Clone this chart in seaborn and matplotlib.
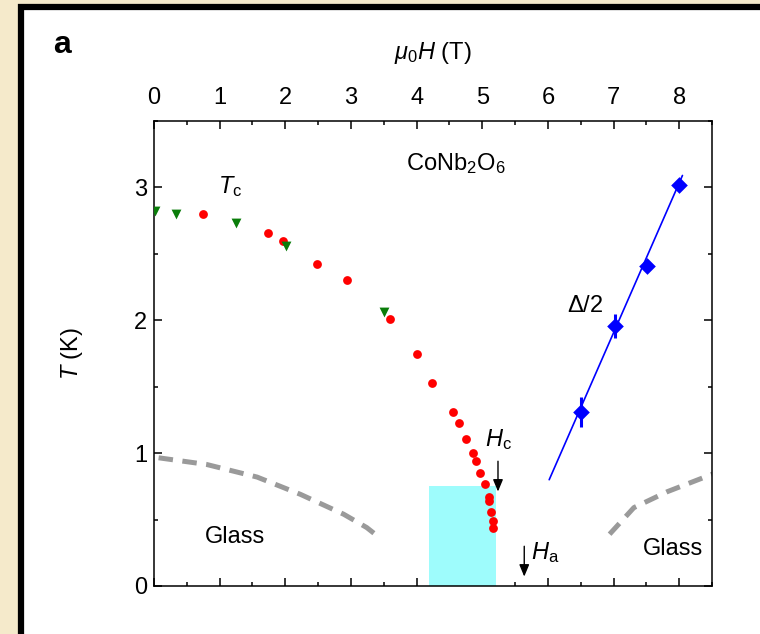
import numpy as np
import pandas as pd
import matplotlib
matplotlib.use("Agg")
import matplotlib.pyplot as plt
from matplotlib.patches import Rectangle
from matplotlib.ticker import MultipleLocator
import seaborn as sns

# --- data -------------------------------------------------------------
# Tc from specific heat (red circles)
tc_heat_H = [0.74, 1.74, 1.96, 2.49, 2.94, 3.60, 4.00, 4.23, 4.55, 4.64,
             4.75, 4.86, 4.91, 4.96, 5.04, 5.10, 5.11, 5.14, 5.17, 5.17]
tc_heat_T = [2.80, 2.66, 2.60, 2.42, 2.30, 2.01, 1.75, 1.53, 1.31, 1.23,
             1.11, 1.00, 0.94, 0.85, 0.77, 0.67, 0.64, 0.56, 0.49, 0.44]
# Tc from susceptibility (green triangles)
tc_chi_H = [0.02, 0.34, 1.25, 2.01, 3.50]
tc_chi_T = [2.82, 2.80, 2.73, 2.56, 2.06]
# half gap (blue diamonds) with error bars and linear fit
gap_H = [6.51, 7.02, 7.51, 8.00]
gap_T = [1.31, 1.96, 2.41, 3.02]
gap_err = [0.11, 0.09, 0.03, 0.03]
fit_H = [6.02, 8.05]
fit_T = [0.80, 3.09]
# glass boundaries (grey dashed)
glass_left_H = [0.07, 0.80, 1.57, 2.23, 2.89, 3.24, 3.42]
glass_left_T = [0.965, 0.915, 0.82, 0.69, 0.54, 0.44, 0.37]
glass_right_H = [6.94, 7.31, 7.82, 8.60]
glass_right_T = [0.39, 0.59, 0.71, 0.86]
# shaded field window
window_H = [4.19, 5.21]
window_T = [0.0, 0.75]

# --- style ------------------------------------------------------------
sns.set_style("ticks")
plt.rcParams["font.family"] = ["Liberation Sans", "DejaVu Sans"]
plt.rcParams["mathtext.fontset"] = "custom"
plt.rcParams["mathtext.rm"] = "Liberation Sans"
plt.rcParams["mathtext.it"] = "Liberation Sans:italic"
plt.rcParams["mathtext.bf"] = "Liberation Sans:bold"
plt.rcParams["text.color"] = "black"
plt.rcParams["axes.labelcolor"] = "black"
plt.rcParams["xtick.color"] = "black"
plt.rcParams["ytick.color"] = "black"

FS = 17
BEIGE = "#f5eacb"

fig = plt.figure(figsize=(7.6, 6.34), dpi=100, facecolor=BEIGE)

# white panel with heavy black frame (open to the right and bottom)
top = 1 - 7.5 / 634
panel = Rectangle((21 / 760, -0.2), 1.2, top + 0.2,
                  transform=fig.transFigure, facecolor="white",
                  edgecolor="black", linewidth=4.5, zorder=-5)
fig.patches.append(panel)

ax = fig.add_axes([154 / 760, 1 - 586 / 634, (712 - 154) / 760, (586 - 121) / 634])
ax.set_facecolor("none")
ax.set_zorder(2)

# shaded window
ax.add_patch(Rectangle((window_H[0], window_T[0]), window_H[1] - window_H[0],
                       window_T[1] - window_T[0], facecolor="#9efcfc",
                       edgecolor="none", zorder=1))

# glass boundaries
dash = (0, (2.9, 1.9))
sns.lineplot(x=glass_left_H, y=glass_left_T, ax=ax, sort=False, estimator=None,
             color="#9a9a9a", linewidth=3.6, linestyle=dash, zorder=2)
sns.lineplot(x=glass_right_H, y=glass_right_T, ax=ax, sort=False, estimator=None,
             color="#9a9a9a", linewidth=3.6, linestyle=dash, zorder=2)

# gap fit line
sns.lineplot(x=fit_H, y=fit_T, ax=ax, sort=False, estimator=None,
             color="#0000ff", linewidth=1.2, zorder=3)
ax.errorbar(gap_H, gap_T, yerr=gap_err, fmt="none", ecolor="#0000ff",
            elinewidth=2.2, capsize=0, zorder=3)

df_heat = pd.DataFrame({"H": tc_heat_H, "T": tc_heat_T})
df_chi = pd.DataFrame({"H": tc_chi_H, "T": tc_chi_T})
df_gap = pd.DataFrame({"H": gap_H, "T": gap_T})

sns.scatterplot(data=df_heat, x="H", y="T", ax=ax, color="#ff0000", marker="o",
                s=40, linewidth=0, zorder=4)
sns.scatterplot(data=df_chi, x="H", y="T", ax=ax, color="#0a7d0a", marker="v",
                s=50, linewidth=0, zorder=4)
sns.scatterplot(data=df_gap, x="H", y="T", ax=ax, color="#0000ff", marker="D",
                s=72, linewidth=0, zorder=5)

# --- axes -------------------------------------------------------------
ax.set_xlim(0, 8.5)
ax.set_ylim(0, 3.5)
ax.xaxis.set_major_locator(MultipleLocator(1))
ax.xaxis.set_minor_locator(MultipleLocator(0.5))
ax.yaxis.set_major_locator(MultipleLocator(1))
ax.yaxis.set_minor_locator(MultipleLocator(0.5))
ax.tick_params(axis="both", which="both", direction="in", top=True, right=True,
               bottom=True, left=True, colors="black", width=1.1)
ax.tick_params(axis="both", which="major", length=6)
ax.tick_params(axis="both", which="minor", length=3)
ax.tick_params(axis="x", labeltop=True, labelbottom=False, labelsize=FS, pad=9)
ax.tick_params(axis="y", labelleft=True, labelsize=FS, pad=5)
for sp in ax.spines.values():
    sp.set_visible(True)
    sp.set_linewidth(1.1)
    sp.set_color("black")

ax.xaxis.set_label_position("top")
ax.set_xlabel(r"$\mu_0H$ (T)", fontsize=FS, labelpad=20)
ax.set_ylabel(r"$T$ (K)", fontsize=FS, labelpad=35)

# --- annotations ------------------------------------------------------
ax.text(4.59, 3.18, r"CoNb$_2$O$_6$", fontsize=FS, ha="center", va="center")
ax.text(1.16, 3.01, r"$T_\mathrm{c}$", fontsize=FS, ha="center", va="center")
ax.text(6.57, 2.11, r"$\Delta$/2", fontsize=FS, ha="center", va="center")
ax.text(1.23, 0.37, "Glass", fontsize=FS, ha="center", va="center")
ax.text(7.9, 0.28, "Glass", fontsize=FS, ha="center", va="center")
ax.text(5.24, 1.10, r"$H_\mathrm{c}$", fontsize=FS, ha="center", va="center")
ax.text(5.75, 0.25, r"$H_\mathrm{a}$", fontsize=FS, ha="left", va="center")
ax.annotate("", xy=(5.24, 0.69), xytext=(5.24, 0.96),
            arrowprops=dict(arrowstyle="-|>,head_length=0.6,head_width=0.25",
                            color="black", lw=1.0, mutation_scale=12))
ax.annotate("", xy=(5.64, 0.05), xytext=(5.64, 0.32),
            arrowprops=dict(arrowstyle="-|>,head_length=0.6,head_width=0.25",
                            color="black", lw=1.0, mutation_scale=12))

fig.text(62 / 760, 1 - 45 / 634, "a", fontsize=23, fontweight="bold",
         ha="center", va="center")

fig.savefig("out.png", dpi=100, facecolor=BEIGE)
